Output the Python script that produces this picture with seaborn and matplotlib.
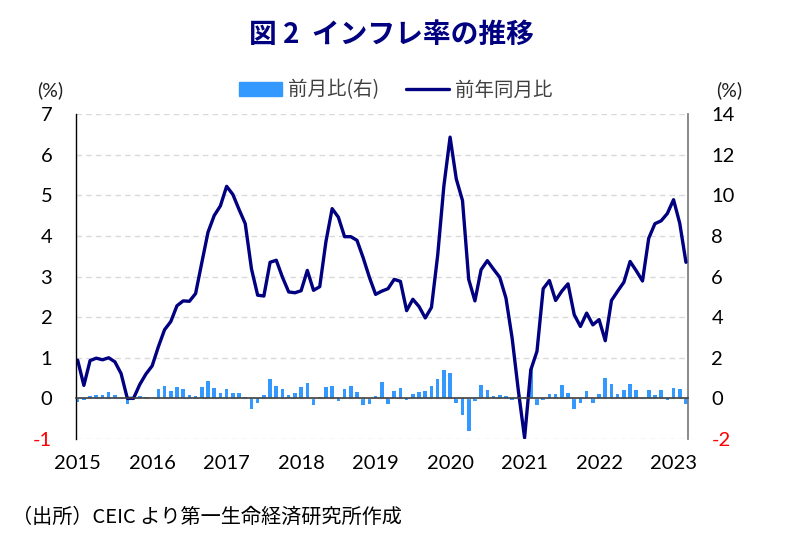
import matplotlib.lines as mlines
import matplotlib.patches as mpatches
import matplotlib.pyplot as plt
import numpy as np
import pandas as pd
import seaborn as sns

# monthly data, Jan 2015 - Mar 2023
years = [2015, 2016, 2017, 2018, 2019, 2020, 2021, 2022, 2023]

yoy = [
    0.94, 0.32, 0.93, 0.99, 0.95, 1.00, 0.90, 0.61, 0.00, 0.00, 0.34, 0.60,
    0.80, 1.27, 1.69, 1.89, 2.28, 2.40, 2.39, 2.58, 3.34, 4.09, 4.50, 4.74,
    5.22, 5.02, 4.65, 4.30, 3.19, 2.54, 2.52, 3.35, 3.40, 2.98, 2.62, 2.60,
    2.65, 3.15, 2.66, 2.75, 3.86, 4.67, 4.46, 3.98, 3.98, 3.89, 3.46, 2.98,
    2.56, 2.64, 2.70, 2.93, 2.88, 2.16, 2.44, 2.26, 1.98, 2.24, 3.52, 5.23,
    6.43, 5.40, 4.87, 2.93, 2.40, 3.17, 3.39, 3.18, 2.98, 2.47, 1.48, 0.19,
    -0.97, 0.70, 1.16, 2.70, 2.90, 2.41, 2.64, 2.82, 2.06, 1.77, 2.10, 1.81,
    1.94, 1.42, 2.41, 2.64, 2.86, 3.37, 3.14, 2.89, 3.94, 4.30, 4.37, 4.55,
    4.89, 4.31, 3.35,
]

mom = [
    -0.20, -0.08, 0.14, 0.16, 0.19, 0.32, 0.16, -0.05, -0.27, 0.07, 0.10, 0.07,
    0.04, 0.44, 0.60, 0.34, 0.55, 0.48, 0.16, 0.12, 0.55, 0.85, 0.50, 0.25,
    0.48, 0.25, 0.25, 0.06, -0.53, -0.24, 0.16, 0.94, 0.61, 0.45, 0.16, 0.25,
    0.55, 0.75, -0.34, 0.09, 0.55, 0.61, -0.12, 0.45, 0.61, 0.33, -0.32, -0.28,
    0.12, 0.81, -0.29, 0.35, 0.50, -0.06, 0.20, 0.30, 0.35, 0.60, 0.96, 1.42,
    1.27, -0.24, -0.81, -1.62, -0.15, 0.65, 0.39, 0.12, 0.16, 0.10, -0.07, 0.10,
    0.09, 1.45, -0.34, -0.10, 0.20, 0.20, 0.65, 0.25, -0.53, -0.24, 0.34, -0.24,
    0.20, 1.00, 0.70, 0.20, 0.39, 0.70, 0.39, 0.04, 0.39, 0.16, 0.39, -0.10,
    0.53, 0.45, -0.27,
]

left_ticks = list(range(-1, 8))
right_ticks = list(range(-2, 15, 2))

NAVY = "#000080"
BLUE = "#3399ff"

sns.set_theme(style="white")
plt.rcParams["font.family"] = ["Lato", "Noto Sans CJK JP", "DejaVu Sans"]
plt.rcParams["axes.unicode_minus"] = False

df = pd.DataFrame({"idx": np.arange(len(yoy)), "yoy": yoy, "mom": mom})

fig = plt.figure(figsize=(7.89, 5.41), dpi=100)
ax = fig.add_axes([0.0963, 0.1885, 0.7753, 0.6008])
ax2 = ax.twinx()

# bars (right axis) behind the line (left axis)
sns.barplot(data=df, x="idx", y="mom", ax=ax2, color=BLUE, width=0.58,
            native_scale=True, saturation=1, linewidth=0)
sns.lineplot(data=df, x="idx", y="yoy", ax=ax, color=NAVY, lw=2.4)
ax.set_zorder(ax2.get_zorder() + 1)
ax.patch.set_visible(False)

ax.set_xlim(-0.27, len(yoy) - 1 + 0.28)
ax2.set_xlim(ax.get_xlim())
ax.set_ylim(-1, 7)
ax2.set_ylim(-2, 14)
ax.set_xlabel("")
ax.set_ylabel("")
ax2.set_xlabel("")
ax2.set_ylabel("")

ax.set_yticks(left_ticks)
ax2.set_yticks(right_ticks)
ax.tick_params(axis="y", length=0, pad=17, labelsize=14.5, labelcolor="black")
ax2.tick_params(axis="y", length=0, pad=17, labelsize=14.5, labelcolor="black")
ax.get_yticklabels()[0].set_color("red")
ax2.get_yticklabels()[0].set_color("red")

ax.yaxis.grid(True, linestyle=(0, (4, 3)), color="#d9d9d9", lw=1)
ax.xaxis.grid(False)

# x axis crossing at zero, tick marks between December and January
bounds = [12 * i - 0.5 for i in range(1, len(years))]
ax.spines["bottom"].set_position(("data", 0))
ax.spines["bottom"].set_color("#404040")
ax.spines["bottom"].set_linewidth(1.2)
ax.set_xticks(bounds)
ax.set_xticklabels([])
ax.tick_params(axis="x", direction="in", length=6, width=1.2, color="#595959", bottom=True)
ax2.set_xticks([])

for i, yr in enumerate(years):
    ax.text(12 * i, -0.074, str(yr), transform=ax.get_xaxis_transform(),
            ha="center", va="center", fontsize=14.5, color="black")

for s in ["top", "right"]:
    ax.spines[s].set_visible(False)
ax.spines["left"].set_color("black")
ax.spines["left"].set_linewidth(1)
for s in ["top", "left", "bottom"]:
    ax2.spines[s].set_visible(False)
ax2.spines["right"].set_color("#808080")
ax2.spines["right"].set_linewidth(1.3)

# title, units, legend, source
fig.text(0.496, 1 - 35 / 541, "図 2  インフレ率の推移", ha="center", va="center",
         fontsize=20, fontweight="bold", color=NAVY, family=["Noto Sans CJK JP"])
fig.text(50 / 789, 1 - 90 / 541, "(%)", ha="center", va="center", fontsize=14, color="#202020")
fig.text(729 / 789, 1 - 90 / 541, "(%)", ha="center", va="center", fontsize=14, color="#202020")

handles = [
    mpatches.Patch(color=BLUE, label="前月比(右)"),
    mlines.Line2D([], [], color=NAVY, lw=2.4, label="前年同月比"),
]
leg = fig.legend(handles=handles, loc="center", bbox_to_anchor=(396 / 789, 1 - 90 / 541),
                 ncol=2, frameon=False, fontsize=14, handlelength=2.2,
                 handletextpad=0.3, columnspacing=1.4)
for t in leg.get_texts():
    t.set_color("#404040")
    t.set_family(["Noto Sans CJK JP"])

fig.text(12 / 789, 1 - 517 / 541, "（出所）CEIC より第一生命経済研究所作成", ha="left", va="center",
         fontsize=14.5, color="black", family=["Noto Sans CJK JP"])

fig.savefig("out.png", dpi=100)
